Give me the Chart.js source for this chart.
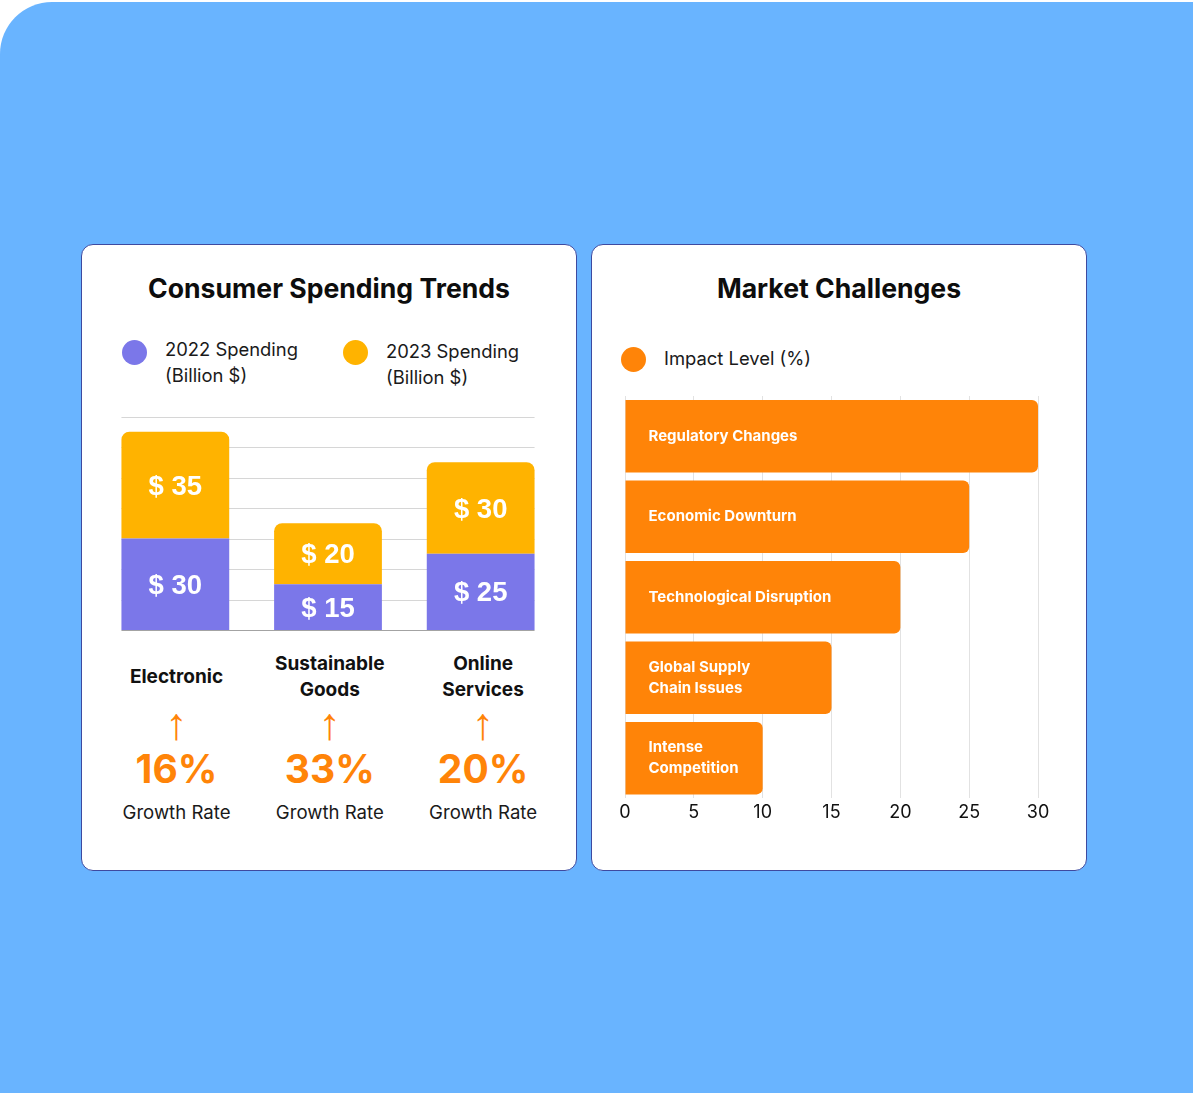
<!DOCTYPE html>
<html>
<head>
<meta charset="utf-8">
<script src="https://cdn.jsdelivr.net/npm/chart.js@4.4.1/dist/chart.umd.min.js"></script>
<style>
  html, body { margin: 0; padding: 0; background: #fff; width: 1193px; height: 1093px; overflow: hidden; }
  body { position: relative; font-family: Inter, "Noto Sans", sans-serif; color: #111; }
  .bg { position: absolute; left: 0; top: 2px; width: 1193px; height: 1091px; background: #69b4ff; border-top-left-radius: 52px; }
  .card { position: absolute; top: 244px; width: 496px; height: 627px; box-sizing: border-box; background: #fff; border: 1.5px solid #3e4aa0; border-radius: 12px; }
  .abs { position: absolute; }
  .title { font-weight: 700; font-size: 26.6px; line-height: 32px; text-align: center; top: 272px; width: 496px; color: #0d0d0d; }
  .dot { width: 25px; height: 25px; border-radius: 50%; }
  .leg { font-size: 18.4px; line-height: 26px; color: #1a1a1a; }
  .col { text-align: center; width: 153px; }
  .cat { top: 651px; height: 52px; display: flex; align-items: center; justify-content: center; font-weight: 700; font-size: 19px; line-height: 26px; }
  .arrow { top: 698px; height: 52px; line-height: 52px; font-size: 45px; color: #ff8408; font-family: "Liberation Sans", "DejaVu Sans", sans-serif; }
  .pct { top: 745px; height: 48px; line-height: 48px; font-size: 39px; font-weight: 700; color: #ff8408; }
  .rate { top: 800px; height: 24px; line-height: 24px; font-size: 18.6px; color: #1a1a1a; }
</style>
</head>
<body>
<div class="bg"></div>
<div class="card" style="left:81px"></div>
<div class="card" style="left:591px"></div>

<div class="abs title" style="left:81px">Consumer Spending Trends</div>
<div class="abs title" style="left:591px">Market Challenges</div>

<div id="legendLeft"></div>
<div id="legendRight"></div>

<div class="abs" style="left:94px; top:410px; width:468px; height:225px;">
  <canvas id="spendingChart"></canvas>
</div>
<div id="growthRow"></div>

<div class="abs" style="left:600px; top:390px; width:463px; height:440px;">
  <canvas id="challengeChart"></canvas>
</div>

<script>
// Consumer spending (billion $)
const spendingCategories = [["Electronic"], ["Sustainable", "Goods"], ["Online", "Services"]];
const spending2022 = [30, 15, 25];
const spending2023 = [35, 20, 30];
const growthRates = [16, 33, 20];
const spendingSeries = ["2022 Spending\n(Billion $)", "2023 Spending\n(Billion $)"];
const spendingMax = 70;
const spendingStep = 10;

// Market challenges
const challengeLabels = [["Regulatory Changes"], ["Economic Downturn"], ["Technological Disruption"], ["Global Supply", "Chain Issues"], ["Intense", "Competition"]];
const impactLevels = [30, 25, 20, 15, 10];
const impactSeries = "Impact Level (%)";
const impactMax = 30;
const impactStep = 5;

const PURPLE = "#7b77e9";
const YELLOW = "#ffb300";
const ORANGE = "#ff8408";

// HTML legends
function legendItem(color, text, dotX, dotY, textX, textY) {
    return `<div class="abs dot" style="left:${dotX}px; top:${dotY}px; background:${color}"></div>` +
        `<div class="abs leg" style="left:${textX}px; top:${textY}px">${text.replace("\n", "<br>")}</div>`;
}
document.getElementById("legendLeft").innerHTML =
    legendItem(PURPLE, spendingSeries[0], 121.5, 339.5, 165, 336) +
    legendItem(YELLOW, spendingSeries[1], 342.5, 339.5, 386, 338);
document.getElementById("legendRight").innerHTML =
    legendItem(ORANGE, impactSeries, 620.5, 346.5, 664, 345);

// Category + growth columns under the stacked chart
let rowHtml = "";
spendingCategories.forEach((cat, i) => {
    const left = 100 + i * 153.3;
    rowHtml += `<div class="abs col cat" style="left:${left}px"><div>${cat.join("<br>")}</div></div>`;
    rowHtml += `<div class="abs col arrow" style="left:${left}px">↑</div>`;
    rowHtml += `<div class="abs col pct" style="left:${left}px">${growthRates[i]}%</div>`;
    rowHtml += `<div class="abs col rate" style="left:${left}px">Growth Rate</div>`;
});
document.getElementById("growthRow").innerHTML = rowHtml;

// Plugin: horizontal guide lines running from the first bar's edge to the last bar's edge
const barSpanGrid = {
    id: "barSpanGrid",
    beforeDatasetsDraw(chart) {
        const bars = chart.getDatasetMeta(0).data;
        if (!bars.length) return;
        const left = bars[0].x - bars[0].width / 2;
        const last = bars[bars.length - 1];
        const right = last.x + last.width / 2;
        const y = chart.scales.y;
        const ctx = chart.ctx;
        ctx.save();
        y.ticks.forEach(t => {
            const py = Math.round(y.getPixelForValue(t.value)) + 0.5;
            ctx.strokeStyle = t.value === 0 ? "#a3a3a3" : "#d6d6d6";
            ctx.lineWidth = 1.2;
            ctx.beginPath();
            ctx.moveTo(left, py);
            ctx.lineTo(right, py);
            ctx.stroke();
        });
        ctx.restore();
    }
};

// Plugin: "$ xx" labels inside each stacked segment
const segmentLabels = {
    id: "segmentLabels",
    afterDatasetsDraw(chart) {
        const ctx = chart.ctx;
        ctx.save();
        ctx.fillStyle = "#ffffff";
        ctx.font = "bold 27.5px 'Liberation Sans', Arial, sans-serif";
        ctx.textAlign = "center";
        ctx.textBaseline = "middle";
        chart.data.datasets.forEach((ds, di) => {
            chart.getDatasetMeta(di).data.forEach((bar, i) => {
                ctx.fillText("$ " + ds.data[i], bar.x, (bar.y + bar.base) / 2 + 2);
            });
        });
        ctx.restore();
    }
};

// Plugin: category names written inside the horizontal bars
const barNames = {
    id: "barNames",
    afterDatasetsDraw(chart) {
        const ctx = chart.ctx;
        ctx.save();
        ctx.fillStyle = "#ffffff";
        ctx.font = "bold 15px Inter, sans-serif";
        ctx.textAlign = "left";
        ctx.textBaseline = "middle";
        chart.getDatasetMeta(0).data.forEach((bar, i) => {
            const lines = challengeLabels[i];
            const lh = 21;
            const top = bar.y - (lines.length - 1) * lh / 2;
            lines.forEach((line, k) => {
                ctx.fillText(line, bar.base + 23, top + k * lh);
            });
        });
        ctx.restore();
    }
};

new Chart(document.getElementById("spendingChart"), {
    type: "bar",
    data: {
        labels: spendingCategories.map(c => c.join(" ")),
        datasets: [
            { label: spendingSeries[0], data: spending2022, backgroundColor: PURPLE, borderRadius: 0 },
            { label: spendingSeries[1], data: spending2023, backgroundColor: YELLOW, borderRadius: 8 }
        ]
    },
    options: {
        responsive: true,
        maintainAspectRatio: false,
        animation: false,
        layout: { padding: { left: 5, right: 5, top: 6.5, bottom: 5 } },
        datasets: { bar: { barPercentage: 0.706, categoryPercentage: 1 } },
        plugins: { legend: { display: false }, tooltip: { enabled: false } },
        scales: {
            x: { stacked: true, display: false },
            y: {
                stacked: true,
                min: 0,
                max: spendingMax,
                ticks: { display: false, stepSize: spendingStep },
                border: { display: false },
                grid: { display: false, drawTicks: false },
                afterFit: s => { s.width = 0; }
            }
        }
    },
    plugins: [barSpanGrid, segmentLabels]
});

new Chart(document.getElementById("challengeChart"), {
    type: "bar",
    data: {
        labels: challengeLabels.map(c => c.join(" ")),
        datasets: [
            { label: impactSeries, data: impactLevels, backgroundColor: ORANGE, borderRadius: 6 }
        ]
    },
    options: {
        indexAxis: "y",
        responsive: true,
        maintainAspectRatio: false,
        animation: false,
        layout: { padding: { left: 25, right: 25, top: 6, bottom: 4 } },
        datasets: { bar: { barPercentage: 0.9, categoryPercentage: 1 } },
        plugins: { legend: { display: false }, tooltip: { enabled: false } },
        scales: {
            y: { display: false },
            x: {
                min: 0,
                max: impactMax,
                ticks: { stepSize: impactStep, color: "#111", font: { family: "Inter", size: 18 }, padding: 3 },
                border: { display: false },
                grid: { drawTicks: false, color: "#e2e2e2" }
            }
        }
    },
    plugins: [barNames]
});
</script>
</body>
</html>
